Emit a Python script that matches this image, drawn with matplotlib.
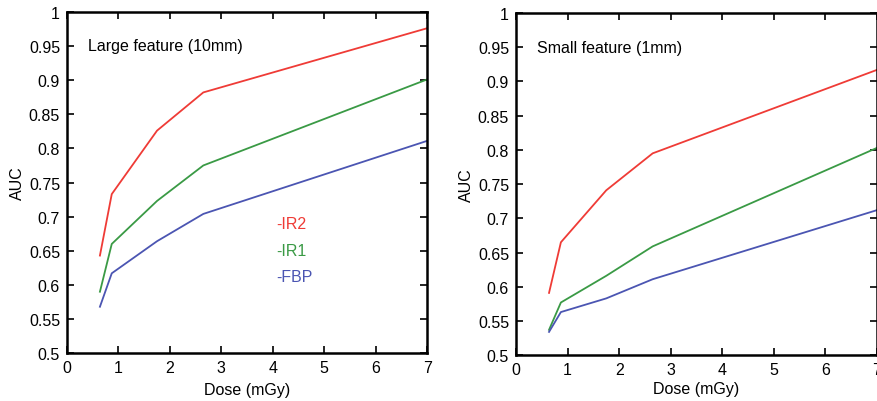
import matplotlib
matplotlib.use("Agg")
import matplotlib.pyplot as plt

plt.rcParams["font.family"] = ["Liberation Sans", "DejaVu Sans"]

dose = [0.64, 0.87, 1.75, 2.65, 7.0]

# Large feature (10mm)
large_ir2 = [0.643, 0.733, 0.826, 0.882, 0.976]
large_ir1 = [0.590, 0.660, 0.723, 0.775, 0.901]
large_fbp = [0.568, 0.617, 0.664, 0.704, 0.811]

# Small feature (1mm)
small_ir2 = [0.591, 0.665, 0.741, 0.795, 0.917]
small_ir1 = [0.537, 0.577, 0.616, 0.659, 0.803]
small_fbp = [0.534, 0.563, 0.583, 0.611, 0.712]

labels = ["-IR2", "-IR1", "-FBP"]
colors = ["#ef3b36", "#3a9a45", "#4b55b2"]
x_ticks = [0, 1, 2, 3, 4, 5, 6, 7]
y_ticks = [0.5, 0.55, 0.6, 0.65, 0.7, 0.75, 0.8, 0.85, 0.9, 0.95, 1.0]
y_ticklabels = ["0.5", "0.55", "0.6", "0.65", "0.7", "0.75", "0.8", "0.85", "0.9", "0.95", "1"]


def style_axes(ax, title, xpad):
    ax.set_xlim(0, 7)
    ax.set_ylim(0.5, 1.0)
    ax.set_xticks(x_ticks)
    ax.set_yticks(y_ticks)
    ax.set_yticklabels(y_ticklabels)
    ax.tick_params(direction="in", length=5, width=1.2, top=True, right=True,
                   labelsize=11.5, pad=5)
    for sp in ax.spines.values():
        sp.set_linewidth(1.8)
    ax.set_xlabel("Dose (mGy)", fontsize=11.5, labelpad=xpad)
    ax.set_ylabel("AUC", fontsize=11.5, labelpad=3)
    ax.text(0.4, 0.95, title, fontsize=11.5, va="center", ha="left")


fig = plt.figure(figsize=(8.77, 4.02), dpi=100)
ax1 = fig.add_axes([0.0764, 0.119, 0.4106, 0.849])
ax2 = fig.add_axes([0.5884, 0.114, 0.4116, 0.851])

for ys, c in zip([large_ir2, large_ir1, large_fbp], colors):
    ax1.plot(dose, ys, color=c, linewidth=1.3)
for ys, c in zip([small_ir2, small_ir1, small_fbp], colors):
    ax2.plot(dose, ys, color=c, linewidth=1.3)

style_axes(ax1, "Large feature (10mm)", 5)
style_axes(ax2, "Small feature (1mm)", 3)

for lab, c, yy in zip(labels, colors, [0.69, 0.651, 0.612]):
    ax1.text(4.07, yy, lab, color=c, fontsize=11.5, va="center", ha="left")

fig.savefig("out.png", dpi=100)
